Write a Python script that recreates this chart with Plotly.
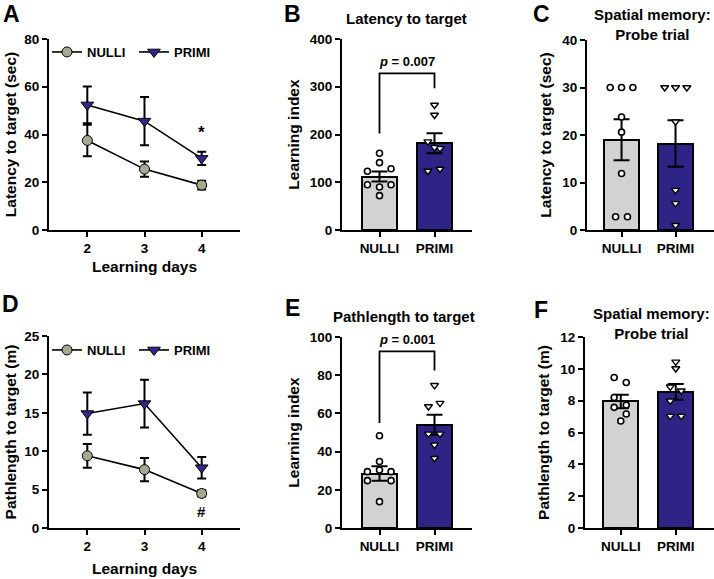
import plotly.graph_objects as go

days = [2, 3, 4]
groups = ["NULLI", "PRIMI"]

# A - latency to target over learning days (mean, sem)
lat_nulli = [37.5, 25.5, 18.8]
lat_nulli_sem = [6.6, 3.2, 1.8]
lat_primi = [52.4, 45.6, 30.0]
lat_primi_sem = [7.7, 10.1, 2.8]

# B - learning index from latency
li_lat_nulli = [160.6, 141.0, 122.9, 128.4, 94.9, 90.1, 94.9, 71.9]
li_lat_primi = [261.8, 240.8, 185.0, 171.0, 173.0, 123.6, 127.7]
li_lat_mean = [112.0, 181.5]
li_lat_sem = [10.5, 21.0]

# C - probe trial latency
probe_lat_nulli = [30, 30, 30, 23.8, 20.6, 11.9, 2.8, 2.8]
probe_lat_primi = [30, 30, 30, 22.8, 8.4, 5.6, 1.0]
probe_lat_mean = [19.0, 18.2]
probe_lat_sem = [4.3, 4.9]

# D - pathlength over learning days
path_nulli = [9.4, 7.6, 4.5]
path_nulli_sem = [1.55, 1.5, 0.4]
path_primi = [14.9, 16.2, 7.85]
path_primi_sem = [2.75, 3.1, 1.4]

# E - learning index from pathlength
li_path_nulli = [48.3, 34.8, 29.5, 30.4, 29.5, 24.8, 24.8, 13.8]
li_path_primi = [74.7, 63.6, 65.4, 49.3, 49.3, 43.5, 36.5]
li_path_mean = [28.5, 54.0]
li_path_sem = [3.8, 5.3]

# F - probe trial pathlength
probe_path_nulli = [9.46, 9.14, 8.2, 7.72, 7.58, 7.16, 6.72]
probe_path_primi = [10.44, 10.02, 8.87, 8.62, 7.99, 7.03, 7.03]
probe_path_mean = [7.95, 8.55]
probe_path_sem = [0.42, 0.5]

# horizontal scatter of the dots (offsets from bar centre)
jit_b_n = [0, 0, -0.22, 0.21, -0.22, 0, 0.21, 0]
jit_b_p = [0, 0, -0.12, 0.1, 0, -0.12, 0.1]
jit_c_n = [-0.21, 0, 0.21, 0, 0, 0, -0.11, 0.11]
jit_c_p = [-0.2, 0, 0.21, 0, 0, 0, 0]
jit_e_n = [0, 0, -0.22, 0, 0.21, -0.22, 0.21, 0]
jit_e_p = [0, -0.11, 0.1, -0.11, 0.1, 0, 0]
jit_f_n = [-0.12, 0.1, -0.12, 0.1, -0.12, 0.1, 0]
jit_f_p = [0, 0, -0.1, 0.1, -0.1, -0.1, 0.1]

GREEN = "#A7A892"
NAVY = "#2F2889"
BAR_GREY = "#D2D2D2"
BAR_NAVY = "#2E2485"
FONT = "Liberation Sans, Arial, sans-serif"

W, H = 714, 579


def px(x0, x1):
    return [x0 / W, x1 / W]


def py(top, bottom):
    return [(H - bottom) / H, (H - top) / H]


def bold(size):
    return dict(family=FONT, size=size, color="black", weight="bold")


fig = go.Figure()


def line_panel(n, y1, e1, y2, e2, legend):
    xa, ya = ("x", "y") if n == 1 else ("x%d" % n, "y%d" % n)
    fig.add_trace(go.Scatter(x=days, y=y1, name="NULLI", mode="lines+markers",
                             xaxis=xa, yaxis=ya, legend=legend,
                             line=dict(color="black", width=1.6),
                             marker=dict(symbol="circle", size=10, color=GREEN,
                                         line=dict(color="black", width=1)),
                             error_y=dict(type="data", array=e1, color="black",
                                          thickness=2, width=4.5)))
    fig.add_trace(go.Scatter(x=days, y=y2, name="PRIMI", mode="lines+markers",
                             xaxis=xa, yaxis=ya, legend=legend,
                             line=dict(color="black", width=1.6),
                             marker=dict(symbol="triangle-down", size=11, color=NAVY,
                                         line=dict(color="black", width=1)),
                             error_y=dict(type="data", array=e2, color="black",
                                          thickness=2, width=4.5)))


def bar_panel(n, mean, sem, pts_n, jn, pts_p, jp):
    xa, ya = "x%d" % n, "y%d" % n
    fig.add_trace(go.Bar(x=[0, 1], y=mean, width=0.64, xaxis=xa, yaxis=ya,
                         showlegend=False,
                         marker=dict(color=[BAR_GREY, BAR_NAVY],
                                     line=dict(color="black", width=2)),
                         error_y=dict(type="data", array=sem, color="black",
                                      thickness=2, width=8)))
    fig.add_trace(go.Scatter(x=[0 + j for j in jn], y=pts_n, mode="markers",
                             xaxis=xa, yaxis=ya, showlegend=False,
                             marker=dict(symbol="circle", size=6, color="white",
                                         line=dict(color="black", width=1.6))))
    fig.add_trace(go.Scatter(x=[1 + j for j in jp], y=pts_p, mode="markers",
                             xaxis=xa, yaxis=ya, showlegend=False,
                             marker=dict(symbol="triangle-down", size=7, color="white",
                                         line=dict(color="black", width=1.4))))


line_panel(1, lat_nulli, lat_nulli_sem, lat_primi, lat_primi_sem, "legend")
bar_panel(2, li_lat_mean, li_lat_sem, li_lat_nulli, jit_b_n, li_lat_primi, jit_b_p)
bar_panel(3, probe_lat_mean, probe_lat_sem, probe_lat_nulli, jit_c_n, probe_lat_primi, jit_c_p)
line_panel(4, path_nulli, path_nulli_sem, path_primi, path_primi_sem, "legend2")
bar_panel(5, li_path_mean, li_path_sem, li_path_nulli, jit_e_n, li_path_primi, jit_e_p)
bar_panel(6, probe_path_mean, probe_path_sem, probe_path_nulli, jit_f_n, probe_path_primi, jit_f_p)

tickf = bold(13.5)
titlef = bold(15.5)

axis_common = dict(showline=True, linecolor="black", linewidth=2, ticks="outside",
                   ticklen=5, tickwidth=2, tickcolor="black", showgrid=False,
                   zeroline=False, tickfont=tickf, automargin=False, fixedrange=True)


def xline(dom, anchor, title, standoff):
    return dict(axis_common, domain=dom, anchor=anchor, range=[1.33, 4.67],
                tickvals=days, title=dict(text=title, font=titlef, standoff=standoff))


def xcat(dom, anchor, rng):
    return dict(axis_common, domain=dom, anchor=anchor, range=rng,
                tickvals=[0, 1], ticktext=groups)


def yax(dom, anchor, rng, dtick, title, standoff):
    return dict(axis_common, domain=dom, anchor=anchor, range=rng, dtick=dtick,
                title=dict(text=title, font=titlef, standoff=standoff))


top_row = py(39, 230)
bot_row = py(336, 528)

legend_common = dict(orientation="h", xanchor="left", yanchor="middle", font=bold(13),
                     bgcolor="rgba(0,0,0,0)", itemwidth=30, entrywidth=42)

fig.update_layout(
    width=W, height=H,
    margin=dict(l=0, r=0, t=0, b=0),
    paper_bgcolor="white", plot_bgcolor="white",
    font=dict(family=FONT, color="black", weight="bold"),
    bargap=0,
    xaxis=xline(px(49, 240), "y", "Learning days", 6),
    yaxis=yax(top_row, "x", [0, 80], 20, "Latency to target (sec)", 4),
    xaxis2=xcat(px(342, 472), "y2", [-0.682, 1.682]),
    yaxis2=yax(top_row, "x2", [0, 400], 100, "Learning index", 6),
    xaxis3=xcat(px(587, 714), "y3", [-0.64, 1.713]),
    yaxis3=yax(py(40, 230), "x3", [0, 40], 10, "Latency to target (sec)", 7),
    xaxis4=xline(px(49, 240), "y4", "Learning days", 10),
    yaxis4=yax(bot_row, "x4", [0, 25], 5, "Pathlength to target (m)", 4),
    xaxis5=xcat(px(342, 472), "y5", [-0.682, 1.682]),
    yaxis5=yax(py(337, 528), "x5", [0, 100], 20, "Learning index", 6),
    xaxis6=xcat(px(585, 714), "y6", [-0.65, 1.695]),
    yaxis6=yax(py(337, 528), "x6", [0, 12], 2, "Pathlength to target (m)", 7),
    legend=dict(legend_common, x=47 / W, y=1 - 52 / H),
    legend2=dict(legend_common, x=47 / W, y=1 - 350 / H),
)

# panel letters and titles
letters = [("A", 11, 14), ("B", 292, 14), ("C", 541, 14),
           ("D", 10, 304), ("E", 292, 308), ("F", 541, 310)]
for t, x, y in letters:
    fig.add_annotation(text=t, x=x / W, y=1 - y / H, xref="paper", yref="paper",
                       xanchor="center", yanchor="middle", showarrow=False, font=bold(23))

titles = [("Latency to target", 406, 18), ("Spatial memory:<br>Probe trial", 652, 24),
          ("Pathlength to target", 404, 316), ("Spatial memory:<br>Probe trial", 651, 323)]
for t, x, y in titles:
    fig.add_annotation(text=t, x=x / W, y=1 - y / H, xref="paper", yref="paper",
                       xanchor="center", yanchor="middle", showarrow=False, font=bold(15))

# significance marks
fig.add_annotation(text="*", x=4, y=41, xref="x", yref="y", showarrow=False,
                   font=bold(17))
fig.add_annotation(text="#", x=4, y=2.2, xref="x4", yref="y4", showarrow=False,
                   font=bold(15))

# brackets with p values
for n, low_l, top, low_r, label in [(2, 202, 328, 297, "<i>p</i> = 0.007"),
                                    (5, 55, 92.5, 82.5, "<i>p</i> = 0.001")]:
    fig.add_shape(type="path", xref="x%d" % n, yref="y%d" % n,
                  path="M 0 %s L 0 %s L 1 %s L 1 %s" % (low_l, top, top, low_r),
                  line=dict(color="black", width=1.8))
    fig.add_annotation(text=label, x=0.5, y=top, xref="x%d" % n, yref="y%d" % n,
                       yshift=12, showarrow=False, font=bold(13))

# the page has a default body margin; drop it so the figure fills the window
fig.write_html("out.html", config={"displayModeBar": False},
               post_script="document.body.style.margin='0px';")
